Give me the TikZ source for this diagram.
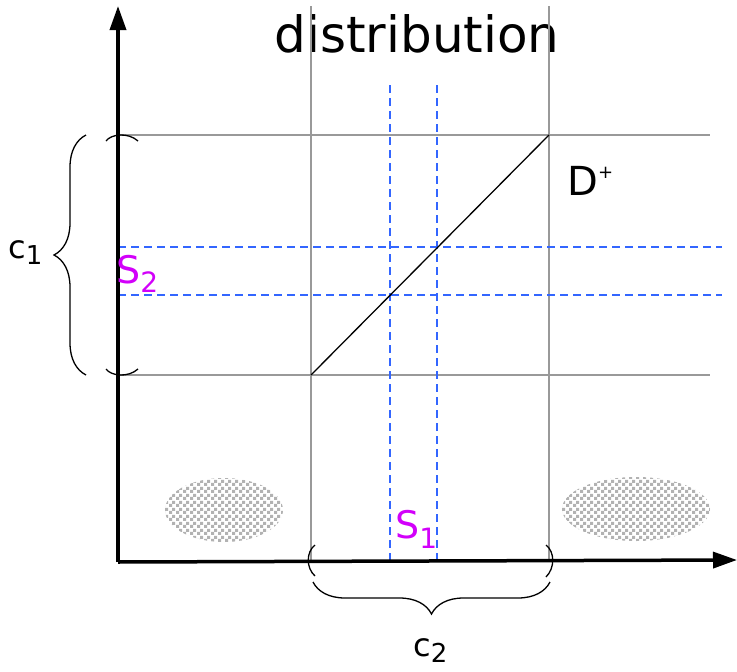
\documentclass[tikz,border=0pt]{standalone}
\usepackage{fontspec}
\setmainfont{DejaVu Sans}
\usetikzlibrary{arrows.meta,decorations.pathreplacing,patterns}
\pgfdeclarepatternformonly{checks}{\pgfqpoint{0pt}{0pt}}{\pgfqpoint{6.5pt}{6.5pt}}{\pgfqpoint{6.5pt}{6.5pt}}{%
  \pgfpathrectangle{\pgfqpoint{0pt}{0pt}}{\pgfqpoint{3.25pt}{3.25pt}}%
  \pgfpathrectangle{\pgfqpoint{3.25pt}{3.25pt}}{\pgfqpoint{3.25pt}{3.25pt}}%
  \pgfusepath{fill}}
\definecolor{dashblue}{RGB}{51,102,255}
\definecolor{labmag}{RGB}{210,0,250}
\definecolor{linegray}{RGB}{153,153,153}
\newcommand{\lowsub}[3]{\raisebox{-#2pt}{\fontsize{#1}{#1}\selectfont #3}}
\begin{document}
\begin{tikzpicture}[x=1pt,y=-1pt,
  axisline/.style={line width=3.5pt,-{Triangle[length=24pt,width=16pt]}},
  grayline/.style={draw=linegray,line width=1.3pt},
  blueline/.style={draw=dashblue,line width=1.3pt,dash pattern=on 8pt off 5pt},
  blob/.style={pattern=checks,pattern color=gray!60},
  bracket/.style={draw=black,line width=1.3pt},
  bracestyle/.style={draw=black,line width=1.3pt,decorate,decoration={brace,amplitude=32pt,raise=0pt}},
  lab/.style={inner sep=0pt,font=\fontsize{32}{32}\selectfont},
  slab/.style={inner sep=0pt,text=labmag,font=\fontsize{38}{38}\selectfont}]
\useasboundingbox (0,0) rectangle (737,672);
% points
\coordinate (O) at (118,562);
\coordinate (ytop) at (118,6);
\coordinate (xend) at (737,560);
\coordinate (va1) at (311,6);  \coordinate (vb1) at (311,560);
\coordinate (va2) at (549,6);  \coordinate (vb2) at (549,560);
\coordinate (ha1) at (118,135); \coordinate (hb1) at (710,135);
\coordinate (ha2) at (118,375); \coordinate (hb2) at (710,375);
\coordinate (da1) at (390,85); \coordinate (db1) at (390,564);
\coordinate (da2) at (437,85); \coordinate (db2) at (437,564);
\coordinate (ea1) at (118,247); \coordinate (eb1) at (722,247);
\coordinate (ea2) at (118,295); \coordinate (eb2) at (722,295);
\coordinate (lo) at (311,375); \coordinate (hi) at (549,135);
% blobs
\fill[blob] (224,510) ellipse [x radius=59, y radius=32];
\fill[blob] (636,509) ellipse [x radius=74, y radius=32];
% title
\node[inner sep=0pt,anchor=base,font=\fontsize{50}{50}\selectfont] (title) at (417,52) {distribution};
% grid lines
\draw[grayline] (va1) -- (vb1);
\draw[grayline] (va2) -- (vb2);
\draw[grayline] (ha1) -- (hb1);
\draw[grayline] (ha2) -- (hb2);
\draw[blueline] (da1) -- (db1);
\draw[blueline] (da2) -- (db2);
\draw[blueline] (ea1) -- (eb1);
\draw[blueline] (ea2) -- (eb2);
\draw[black,line width=1.3pt] (lo) -- (hi);
% axes
\draw[axisline] (O) -- (ytop);
\draw[axisline] (O) -- (xend);
% interval marks on axes
\draw[bracket] (106,141) .. controls (111,134) and (128,132) .. (138,141);
\draw[bracket] (106,369) .. controls (111,376) and (128,378) .. (138,369);
\draw[bracket] (315,545) .. controls (306,552) and (306,568) .. (315,576);
\draw[bracket] (546,545) .. controls (555,552) and (555,568) .. (546,577);
% braces
\coordinate (b1s) at (86,375); \coordinate (b1e) at (86,135);
\coordinate (b2s) at (550,582); \coordinate (b2e) at (313,582);
\draw[bracestyle] (b1s) -- (b1e);
\draw[bracestyle] (b2s) -- (b2e);
% labels
\node[lab,anchor=base west] (c1) at (8,258) {c\lowsub{26}{6}{1}};
\node[lab,anchor=base west] (c2) at (413,656) {c\lowsub{26}{6}{2}};
\node[slab,anchor=base west] (S2) at (116,283) {S\lowsub{28}{9}{2}};
\node[slab,anchor=base west] (S1) at (395,538) {S\lowsub{28}{10}{1}};
\node[inner sep=0pt,anchor=base west,font=\fontsize{40}{40}\selectfont] (Dp) at (567,195) {D\raisebox{17pt}{\fontsize{18}{18}\selectfont +}};
\end{tikzpicture}
\end{document}
